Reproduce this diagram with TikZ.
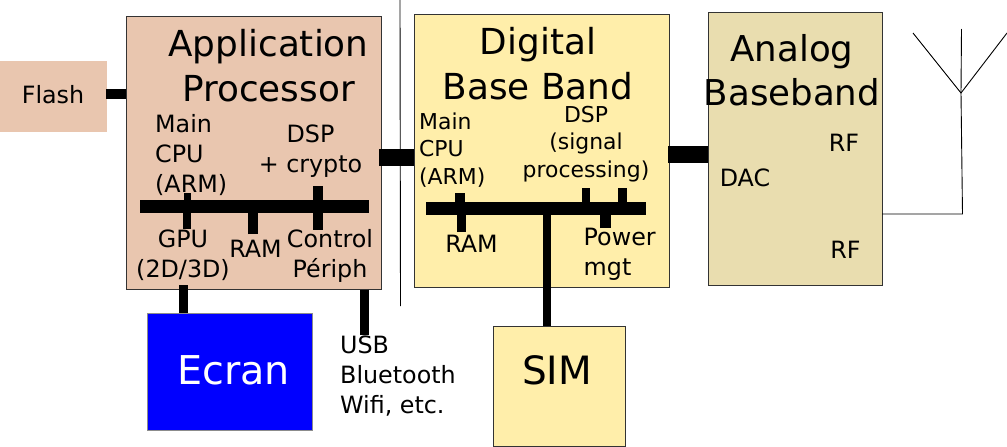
\documentclass[tikz,border=0pt]{standalone}
\usepackage{fontspec}
\setmainfont{DejaVu Sans}
\usetikzlibrary{positioning}
\definecolor{appfill}{HTML}{E9C6AF}
\definecolor{digfill}{HTML}{FFEEAA}
\definecolor{anafill}{HTML}{E9DDAF}
\tikzset{
	block/.style={draw=black!80,line width=0.8pt,inner sep=0pt,outer sep=0pt},
	bigtext/.style={inner sep=0pt,align=center,font=\fontsize{35.8}{45}\selectfont},
	midtext/.style={inner sep=0pt,align=center,font=\fontsize{23.8}{30}\selectfont},
	lefttext/.style={midtext,anchor=west,align=left},
	tighttext/.style={inner sep=0pt,align=center,font=\fontsize{21.9}{27.3}\selectfont},
	wire/.style={line width=0.9pt,black}
}
\begin{document}
\begin{tikzpicture}[x=1pt,y=-1pt]
		\useasboundingbox (0,0) rectangle (1007,447);
		\node[inner sep=0pt,outer sep=0pt,fill=appfill,minimum width=107pt,minimum height=71pt] (flash) at (53.5,96.5) {};
		\node[block,fill=appfill,minimum width=255pt,minimum height=273.5pt] (app) at (253.5,152.75) {};
		\node[block,fill=digfill,minimum width=255pt,minimum height=273pt] (dig) at (541.5,150.5) {};
		\node[block,fill=anafill,minimum width=174pt,minimum height=273.5pt] (ana) at (795,148.75) {};
		\node[block,draw=black!45,fill=blue,minimum width=165pt,minimum height=117pt] (ecran) at (229.5,371.5) {};
		\node[block,fill=digfill,minimum width=132pt,minimum height=120pt] (sim) at (559,386) {};

		\coordinate (flashport) at (106,93.5);
		\coordinate (apport) at (379,157.5);
		\coordinate (digport) at (668,154.5);
		\coordinate (gpuport) at (183,285);
		\coordinate (usbend) at (364,335);
		\coordinate (cuttop) at (400,0);
		\coordinate (cutend) at (400.5,306);
		\draw[wire] (cuttop) -- (cutend);
		\draw[line width=10pt] (flashport) -- (flashport -| app.west);
		\draw[line width=17pt] (apport) -- (apport -| dig.west);
		\draw[line width=16.5pt] (digport) -- (digport -| ana.west);
		\draw[line width=9pt] (gpuport) -- (gpuport |- ecran.north);
		\draw[line width=9pt] (usbend |- app.south) -- (usbend);

		\coordinate (appbusa) at (140,206.5);
		\coordinate (appbusb) at (369,206.5);
		\coordinate (cputop) at (187.5,193);
		\coordinate (cpubot) at (187,229);
		\coordinate (ramstub) at (253,234);
		\coordinate (dsptop) at (318,186);
		\coordinate (ctlbot) at (318,229.5);
		\draw[line width=13pt] (appbusa) -- (appbusb);
		\draw[line width=7pt] (cputop) -- (cputop |- appbusa);
		\draw[line width=8.5pt] (cpubot) -- (cpubot |- appbusa);
		\draw[line width=10pt] (ramstub) -- (ramstub |- appbusa);
		\draw[line width=10pt] (dsptop) -- (ctlbot);

		\coordinate (digbusa) at (426,208.5);
		\coordinate (digbusb) at (645.5,208.5);
		\coordinate (mcutop) at (460,193);
		\coordinate (rambot) at (461.5,232);
		\coordinate (sigtop) at (586,188);
		\coordinate (sigtopb) at (622.5,188);
		\coordinate (powbot) at (605.5,228);
		\coordinate (simtop) at (547,208.5);
		\draw[line width=13pt] (digbusa) -- (digbusb);
		\draw[line width=10pt] (mcutop) -- (mcutop |- digbusa);
		\draw[line width=9pt] (rambot) -- (rambot |- digbusa);
		\draw[line width=8pt] (sigtop) -- (sigtop |- digbusa);
		\draw[line width=9pt] (sigtopb) -- (sigtopb |- digbusa);
		\draw[line width=10.5pt] (powbot) -- (powbot |- digbusa);
		\draw[line width=8pt] (simtop) -- (simtop |- sim.north);

		\coordinate (mastfoot) at (962.5,214);
		\coordinate (mastjoin) at (961,93);
		\coordinate (masttop) at (961.5,29);
		\coordinate (armleft) at (913,33);
		\coordinate (armright) at (1007,33);
		\draw[wire] (ana.east |- mastfoot) -- (mastfoot) -- (mastjoin) -- (masttop);
		\draw[wire] (armleft) -- (mastjoin) -- (armright);

		\node[midtext] (flashname) at (53,94.5) {Flash};
		\node[bigtext] (appname) at (268.5,66) {Application\\Processor};
		\node[bigtext,font=\fontsize{35.8}{45}\selectfont] (digname) at (538,64) {Digital\\Base Band};
		\node[bigtext,font=\fontsize{35.6}{44}\selectfont] (ananame) at (792,70) {Analog\\Baseband};
		\node[bigtext,font=\fontsize{39.7}{45}\selectfont,white] (ecranname) at (233.5,370) {Ecran};
		\node[bigtext,font=\fontsize{39}{45}\selectfont] (simname) at (557,370) {SIM};

		\node[lefttext] (appcpu) at (155,155) {Main\\CPU\\(ARM)};
		\node[midtext] (appdsp) at (310.5,151) {DSP\\+ crypto};
		\node[midtext] (gpu) at (183,255) {GPU\\(2D/3D)};
		\node[midtext] (appram) at (255.5,248.5) {RAM};
		\node[midtext] (ctl) at (330,256) {Control\\Périph};
		\node[lefttext] (usb) at (340,376) {USB\\Bluetooth\\Wifi, etc.};

		\node[tighttext,anchor=west,align=left] (digcpu) at (419,150) {Main\\CPU\\(ARM)};
		\node[tighttext] (digdsp) at (586,144) {DSP\\(signal\\processing)};
		\node[midtext] (digram) at (471.5,243.5) {RAM};
		\node[lefttext] (power) at (583.5,254.5) {Power\\mgt};

		\node[midtext] (dac) at (745,177.5) {DAC};
		\node[midtext] (rfa) at (844,142.5) {RF};
		\node[midtext] (rfb) at (845.5,249.5) {RF};

		\end{tikzpicture}
\end{document}
